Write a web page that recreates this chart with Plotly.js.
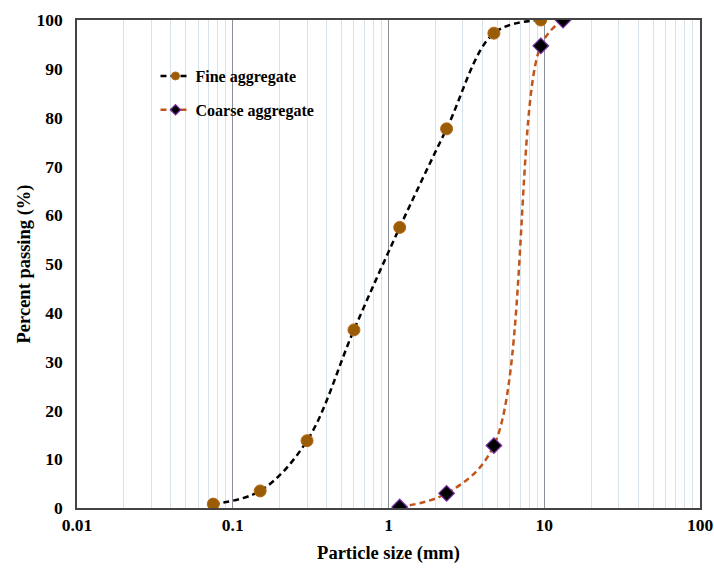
<!DOCTYPE html>
<html>
<head>
<meta charset="utf-8">
<script src="https://cdn.plot.ly/plotly-3.0.1.min.js"></script>
<style>html,body{margin:0;padding:0;background:#fff;}#chart{width:714px;height:568px;}</style>
</head>
<body>
<div id="chart"></div>
<script>
const fineSize = [0.075, 0.15, 0.3, 0.6, 1.18, 2.36, 4.75, 9.5];
const finePassing = [0.8, 3.5, 13.8, 36.5, 57.5, 77.7, 97.3, 100];
const coarseSize = [1.18, 2.36, 4.75, 9.5, 13.2];
const coarsePassing = [0.2, 3.0, 12.8, 94.7, 100];
const xTickVals = [0.01, 0.1, 1, 10, 100];
const xTickText = ['0.01', '0.1', '1', '10', '100'];
const minorVals = [0.02,0.03,0.04,0.05,0.06,0.07,0.08,0.09,
  0.2,0.3,0.4,0.5,0.6,0.7,0.8,0.9,
  2,3,4,5,6,7,8,9,
  20,30,40,50,60,70,80,90];
const yTickVals = [0,10,20,30,40,50,60,70,80,90,100];
const seriesNames = ['Fine aggregate', 'Coarse aggregate'];

const font = {family: '"Liberation Serif", "Times New Roman", serif', color: '#000'};
const bold = s => '<b>' + s + '</b>';

const fineLine = {shape: 'spline', smoothing: 1, color: '#000', width: 2.5, dash: '6px,4px'};
const coarseLine = {shape: 'spline', smoothing: 1, color: '#c0561b', width: 2.5, dash: '6px,4px'};
const fineMarker = {symbol: 'circle', color: '#9a5d06', line: {color: '#b5681a', width: 1}};
const coarseMarker = {symbol: 'diamond', color: '#000', line: {color: '#7a2fa8', width: 1.2}};

const traces = [
  {
    x: fineSize, y: finePassing, showlegend: false,
    mode: 'lines+markers', type: 'scatter',
    line: fineLine, marker: Object.assign({size: 12}, fineMarker)
  },
  {
    x: coarseSize, y: coarsePassing, showlegend: false,
    mode: 'lines+markers', type: 'scatter',
    line: coarseLine, marker: Object.assign({size: 12}, coarseMarker)
  },
  {
    x: [null], y: [null], name: bold(seriesNames[0]), legendgroup: 'a',
    mode: 'lines+markers', type: 'scatter',
    line: fineLine, marker: Object.assign({size: 8}, fineMarker)
  },
  {
    x: [null], y: [null], name: bold(seriesNames[1]), legendgroup: 'b',
    mode: 'lines+markers', type: 'scatter',
    line: coarseLine, marker: Object.assign({size: 8}, coarseMarker)
  }
];

const layout = {
  width: 714, height: 568,
  margin: {l: 77, r: 14, t: 20, b: 60},
  paper_bgcolor: '#fff', plot_bgcolor: '#fff',
  showlegend: true,
  legend: {
    x: 0.126, y: 0.92, xanchor: 'left', yanchor: 'top',
    bgcolor: 'rgba(0,0,0,0)', borderwidth: 0,
    font: Object.assign({}, font, {size: 16}),
    traceorder: 'grouped', tracegroupgap: 10
  },
  xaxis: {
    type: 'log', range: [-2, 2],
    tickmode: 'array', tickvals: xTickVals, ticktext: xTickText.map(bold),
    tickfont: Object.assign({}, font, {size: 17.5}),
    ticks: '',
    showgrid: true, gridcolor: '#8a9099', gridwidth: 1,
    minor: {tickmode: 'array', tickvals: minorVals, showgrid: true, gridcolor: '#d7e3ea', gridwidth: 1, ticks: ''},
    showline: true, linecolor: '#444', linewidth: 1.5, mirror: true,
    zeroline: false, automargin: false,
    title: {text: bold('Particle size (mm)'), font: Object.assign({}, font, {size: 18.5}), standoff: 12}
  },
  yaxis: {
    range: [0, 100], tickmode: 'array', tickvals: yTickVals, ticktext: yTickVals.map(v => bold(String(v))),
    tickfont: Object.assign({}, font, {size: 17.5}),
    ticks: '', showgrid: false, ticklabelstandoff: 9,
    showline: true, linecolor: '#444', linewidth: 1.5, mirror: true,
    zeroline: false, automargin: false,
    title: {text: bold('Percent passing (%)'), font: Object.assign({}, font, {size: 18.5}), standoff: 1}
  }
};

Plotly.newPlot('chart', traces, layout, {displayModeBar: false, responsive: false});
</script>
</body>
</html>
